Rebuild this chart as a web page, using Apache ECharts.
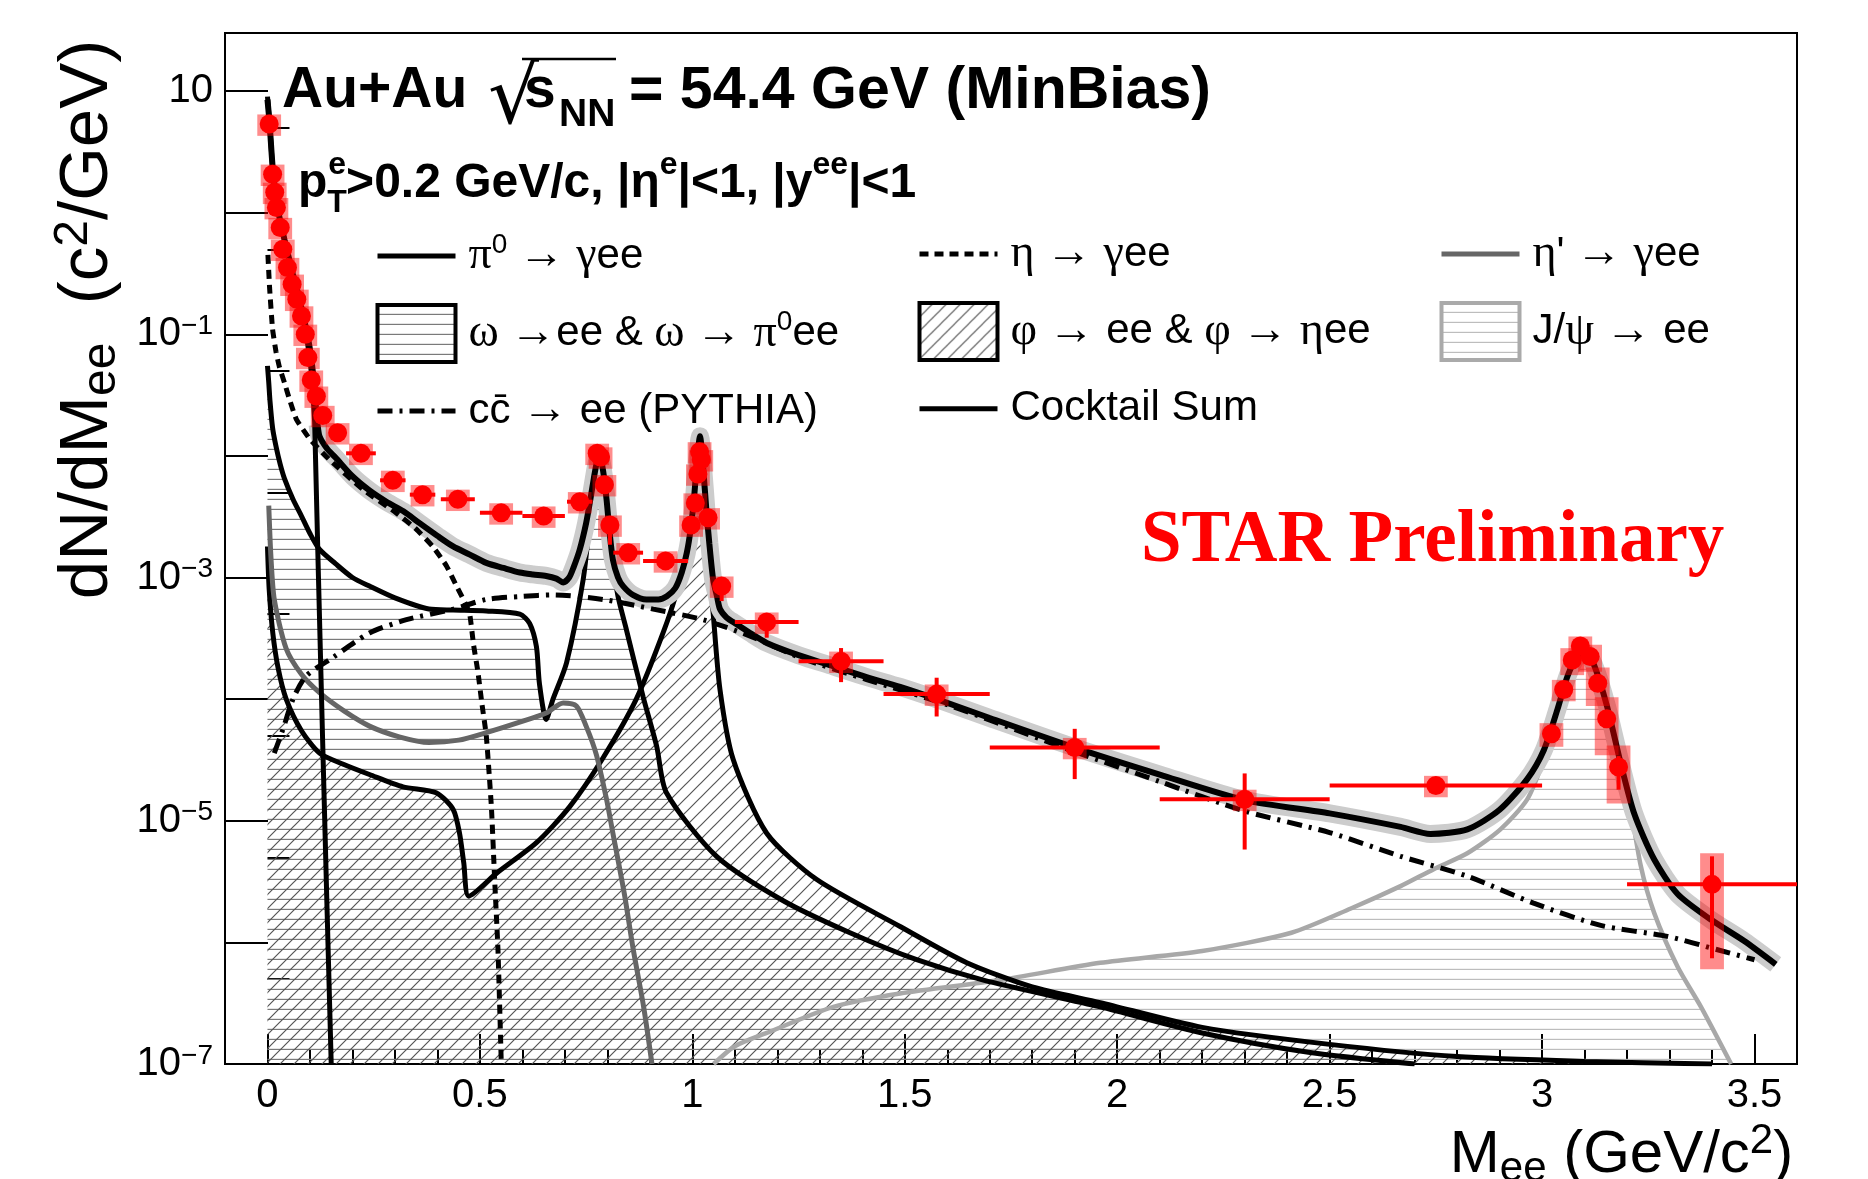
<!DOCTYPE html>
<html>
<head>
<meta charset="utf-8">
<script src="https://cdn.jsdelivr.net/npm/echarts@6.0.0/dist/echarts.min.js"></script>
<style>html,body{margin:0;padding:0;background:#fff}#main{width:1868px;height:1179px}</style>
</head>
<body>
<div id="main"></div>
<script>
// STAR Au+Au 54.4 GeV dielectron mass spectrum vs hadronic cocktail
const SANS = '"Liberation Sans", Arial, Helvetica, sans-serif';
const SERIF = '"Liberation Serif", "Times New Roman", serif';

// axis ticks / labels
const xMajorTicks = [0, 0.5, 1, 1.5, 2, 2.5, 3, 3.5];
const xMinorTicks = [0.1, 0.2, 0.3, 0.4, 0.6, 0.7, 0.8, 0.9, 1.1, 1.2, 1.3, 1.4, 1.6, 1.7, 1.8, 1.9,
    2.1, 2.2, 2.3, 2.4, 2.6, 2.7, 2.8, 2.9, 3.1, 3.2, 3.3, 3.4];
const yMajorTicks = [1e-7, 1e-6, 1e-5, 1e-4, 1e-3, 1e-2, 1e-1, 1, 10];
const yMinorTicks = [5e-7, 5e-6, 5e-5, 5e-4, 5e-3, 5e-2, 5e-1, 5];
const yLabelValues = [1e-7, 1e-5, 1e-3, 1e-1, 10];

// measured points
const ptX = [0.004, 0.012, 0.017, 0.021, 0.03, 0.036, 0.047, 0.058, 0.069, 0.08, 0.089, 0.095, 0.103, 0.115, 0.13, 0.165,
    0.22, 0.295, 0.365, 0.448, 0.55, 0.65, 0.735, 0.776, 0.784, 0.793, 0.806, 0.849, 0.937,
    0.997, 1.007, 1.013, 1.017, 1.021, 1.037, 1.069, 1.175, 1.35, 1.575, 1.9, 2.3, 2.75,
    3.022, 3.051, 3.071, 3.09, 3.113, 3.131, 3.152, 3.18, 3.4];
const ptY = [5.35, 2.07, 1.47, 1.1, 0.755, 0.5, 0.354, 0.258, 0.194, 0.1415, 0.1, 0.0645, 0.042, 0.031, 0.0215, 0.0155,
    0.0105, 0.0063, 0.0048, 0.0044, 0.0034, 0.0032, 0.0042, 0.0105, 0.0098, 0.0058, 0.0027, 0.0016, 0.00137,
    0.0027, 0.0041, 0.0071, 0.0108, 0.0093, 0.0031, 8.5e-4, 4.3e-4, 2.05e-4, 1.1e-4, 4.0e-5, 1.5e-5, 1.95e-5,
    5.2e-5, 1.2e-4, 2.1e-4, 2.73e-4, 2.24e-4, 1.35e-4, 6.9e-5, 2.77e-5, 3.0e-6];
const ptXErr = [0, 0, 0, 0, 0, 0, 0, 0, 0, 0, 0, 0, 0, 0, 0, 0.015,
    0.035, 0.03, 0.03, 0.04, 0.05, 0.05, 0.03, 0, 0, 0, 0, 0.035, 0.053,
    0, 0, 0, 0, 0, 0, 0.02, 0.075, 0.1, 0.125, 0.2, 0.2, 0.25,
    0, 0, 0, 0, 0, 0, 0, 0, 0.2];
const ptStatLo = [null, null, null, null, null, null, null, null, null, null, null, null, null, null, null, null,
    null, null, null, null, null, null, null, null, null, null, 1.86e-3, null, null,
    null, null, null, null, null, null, 6.4e-4, 3.2e-4, 1.38e-4, 7.2e-5, 2.2e-5, 5.8e-6, 1.7e-5,
    null, null, null, null, null, 1.15e-4, 5.8e-5, 1.8e-5, 7.4e-7];
const ptStatHi = [null, null, null, null, null, null, null, null, null, null, null, null, null, null, null, null,
    null, null, null, null, null, null, null, null, null, null, 3.2e-3, null, null,
    null, null, null, null, null, null, 1.0e-3, 5.1e-4, 2.63e-4, 1.5e-4, 5.7e-5, 2.45e-5, 2.25e-5,
    null, null, null, null, null, 1.55e-4, 8.0e-5, 3.4e-5, 5.1e-6];
const ptSysRel = [0.2, 0.2, 0.2, 0.2, 0.2, 0.2, 0.2, 0.2, 0.2, 0.2, 0.2, 0.2, 0.2, 0.2, 0.2, 0.2,
    0.2, 0.2, 0.2, 0.2, 0.2, 0.2, 0.2, 0.2, 0.2, 0.2, 0.2, 0.2, 0.2,
    0.2, 0.2, 0.2, 0.2, 0.2, 0.2, 0.2, 0.2, 0.2, 0.2, 0.2, 0.2, 0.2,
    0.22, 0.2, 0.25, 0.2, 0.25, 0.35, 0.5, 0.5, 0.8];

// cocktail components [mass, dN/dM]
const pi0Curve = [[0, 9], [0.005, 5.4], [0.012, 2.3], [0.02, 1.3], [0.03, 0.85], [0.04, 0.6], [0.05, 0.42],
    [0.06, 0.3], [0.07, 0.22], [0.08, 0.155], [0.09, 0.105], [0.1, 0.062], [0.106, 0.038], [0.111, 0.019],
    [0.12, 1.0e-3], [0.13, 4.3e-5], [0.14, 2e-6], [0.15, 1e-7]];
const etaCurve = [[0.001, 0.45], [0.005, 0.24], [0.012, 0.11], [0.02, 0.072], [0.028, 0.054], [0.04, 0.04],
    [0.052, 0.029], [0.068, 0.02], [0.1, 0.0137], [0.146, 0.0093], [0.2245, 0.0053], [0.303, 0.0034],
    [0.35, 0.0025], [0.389, 0.0018], [0.421, 0.00125], [0.445, 8.5e-4], [0.465, 6.2e-4], [0.476, 5.0e-4],
    [0.485, 2.8e-4], [0.495, 1.7e-4], [0.505, 9e-5], [0.515, 5e-5], [0.527, 1.3e-5], [0.535, 3.1e-6],
    [0.5425, 8.7e-7], [0.55, 1.1e-7]];
const etaPrimeCurve = [[0.003, 3.9e-3], [0.008, 1.5e-3], [0.016, 6.6e-4], [0.044, 2.6e-4], [0.08, 1.6e-4],
    [0.1225, 1.13e-4], [0.18, 8e-5], [0.24, 6e-5], [0.31, 4.9e-5], [0.38, 4.4e-5], [0.45, 4.6e-5],
    [0.515, 5.3e-5], [0.59, 6.4e-5], [0.656, 7.7e-5], [0.696, 9.3e-5], [0.727, 8.8e-5], [0.75, 6e-5],
    [0.774, 3.5e-5], [0.798, 1.5e-5], [0.813, 7.9e-6], [0.84, 2.5e-6], [0.861, 8.7e-7], [0.885, 3e-7], [0.905, 1e-7]];
const omegaCurve = [[0, 0.055], [0.003, 0.04], [0.006, 0.028], [0.012, 0.017], [0.02, 0.012], [0.03, 0.0085],
    [0.04, 0.0065], [0.06, 0.0044], [0.08, 0.0032], [0.1, 0.0023], [0.1225, 0.0017], [0.16, 0.0013],
    [0.2, 0.001], [0.24, 8.5e-4], [0.3, 6.8e-4], [0.38, 5.5e-4], [0.437, 5.4e-4], [0.515, 5.3e-4],
    [0.594, 5.0e-4], [0.617, 4.2e-4], [0.633, 2.7e-4], [0.64, 1.35e-4], [0.656, 6.8e-5], [0.672, 1e-4],
    [0.704, 2.0e-4], [0.743, 9.6e-4], [0.759, 0.003], [0.77, 0.0064], [0.778, 0.0097], [0.79, 0.0065],
    [0.806, 0.0018], [0.825, 7e-4], [0.845, 3.7e-4], [0.884, 1.05e-4], [0.916, 4.1e-5], [0.939, 1.7e-5],
    [1.057, 5.1e-6], [1.214, 2.2e-6], [1.371, 1.2e-6], [1.528, 7.2e-7], [1.685, 4.9e-7], [1.96, 2.95e-7],
    [2.2, 1.8e-7], [2.45, 1.25e-7], [2.7, 1e-7]];
const phiCurve = [[0, 1.8e-3], [0.004, 8e-4], [0.0125, 3.5e-4], [0.025, 1.8e-4], [0.044, 1e-4], [0.08, 5.5e-5],
    [0.1225, 3.6e-5], [0.18, 2.9e-5], [0.24, 2.4e-5], [0.319, 1.9e-5], [0.397, 1.7e-5], [0.437, 1.24e-5],
    [0.452, 7.9e-6], [0.462, 4.5e-6], [0.474, 2.4e-6], [0.539, 3.7e-6], [0.633, 6.6e-6], [0.711, 1.3e-5],
    [0.79, 3.3e-5], [0.868, 1e-4], [0.931, 3.5e-4], [0.965, 8e-4], [0.986, 1.7e-3], [1.002, 4.4e-3],
    [1.012, 9e-3], [1.018, 0.0135], [1.025, 0.006], [1.033, 2.5e-3], [1.049, 5.1e-4], [1.065, 1.2e-4],
    [1.096, 3.2e-5], [1.175, 7.9e-6], [1.292, 3.3e-6], [1.489, 1.35e-6], [1.646, 6.8e-7], [1.8, 4.3e-7],
    [1.96, 3.2e-7], [2.2, 2e-7], [2.5, 1.45e-7], [2.8, 1.15e-7], [3.1, 1.05e-7], [3.4, 1e-7]];
const jpsiCurve = [[1.05, 1e-7], [1.1, 1.4e-7], [1.175, 1.8e-7], [1.332, 2.95e-7], [1.489, 3.8e-7], [1.724, 4.9e-7],
    [1.96, 6.8e-7], [2.2, 8.5e-7], [2.41, 1.2e-6], [2.55, 1.9e-6], [2.667, 2.9e-6], [2.745, 4e-6],
    [2.824, 5.4e-6], [2.902, 8.5e-6], [2.965, 1.5e-5], [3.004, 3.2e-5], [3.036, 7.5e-5], [3.06, 1.5e-4],
    [3.083, 2.2e-4], [3.102, 2.35e-4], [3.122, 1.85e-4], [3.153, 8e-5], [3.18, 3.2e-5], [3.2, 1.9e-5],
    [3.232, 4.3e-6], [3.264, 1.74e-6], [3.319, 6.3e-7], [3.374, 2.95e-7], [3.445, 1e-7]];
const ccbarCurve = [[0.016, 3.6e-5], [0.036, 5.6e-5], [0.06, 1e-4], [0.091, 1.55e-4], [0.154, 2.2e-4],
    [0.24, 3.5e-4], [0.327, 4.5e-4], [0.437, 5.5e-4], [0.515, 6.6e-4], [0.6, 7e-4], [0.672, 7.2e-4],
    [0.79, 6.6e-4], [0.908, 5.5e-4], [1.025, 4.5e-4], [1.136, 3.3e-4], [1.253, 2.2e-4], [1.41, 1.45e-4],
    [1.6, 9e-5], [1.9, 3.7e-5], [2.1, 2.1e-5], [2.3, 1.2e-5], [2.5, 8e-6], [2.667, 5.1e-6], [2.824, 3.5e-6],
    [2.98, 2.1e-6], [3.138, 1.38e-6], [3.295, 1.12e-6], [3.413, 8.7e-7], [3.5, 7.2e-7]];
const sumCurve = [[0, 8.5], [0.005, 5.4], [0.012, 2.4], [0.02, 1.35], [0.03, 0.85], [0.04, 0.6], [0.05, 0.43],
    [0.06, 0.31], [0.07, 0.23], [0.08, 0.165], [0.09, 0.115], [0.1, 0.075], [0.108, 0.045], [0.114, 0.025],
    [0.118, 0.018], [0.1225, 0.0145], [0.14, 0.0115], [0.16, 0.0097], [0.2, 0.0068], [0.24, 0.0052],
    [0.28, 0.0042], [0.32, 0.0035], [0.358, 0.0028], [0.4, 0.0022], [0.437, 0.0018], [0.475, 0.00155],
    [0.515, 0.00132], [0.555, 0.0012], [0.594, 0.0011], [0.625, 0.00106], [0.656, 0.00103], [0.68, 0.00098],
    [0.696, 0.00091], [0.71, 0.001], [0.72, 0.0012], [0.735, 0.0017], [0.75, 0.0028], [0.76, 0.0044],
    [0.768, 0.0065], [0.775, 0.0088], [0.782, 0.01], [0.79, 0.0075], [0.798, 0.0044], [0.805, 0.0024],
    [0.813, 0.0014], [0.825, 0.001], [0.837, 0.00085], [0.86, 0.00072], [0.892, 0.00066], [0.92, 0.00066],
    [0.94, 0.0007], [0.96, 0.00082], [0.975, 0.0011], [0.987, 0.0016], [0.996, 0.0025], [1.004, 0.0045],
    [1.01, 0.0083], [1.018, 0.0145], [1.026, 0.0075], [1.033, 0.0036], [1.04, 0.0019], [1.049, 0.00096],
    [1.058, 0.0007], [1.065, 0.00055], [1.08, 0.00047], [1.096, 0.00043], [1.136, 0.00035], [1.175, 0.00029],
    [1.25, 0.00023], [1.332, 0.000186], [1.41, 0.000152], [1.489, 0.000126], [1.575, 0.0001], [1.7, 7.0e-5],
    [1.9, 4.0e-5], [2.1, 2.4e-5], [2.3, 1.48e-5], [2.5, 1.15e-5], [2.667, 8.9e-6], [2.737, 7.8e-6],
    [2.824, 8.5e-6], [2.9, 1.23e-5], [2.965, 2.2e-5], [3.004, 3.8e-5], [3.036, 8.2e-5], [3.06, 1.55e-4],
    [3.083, 2.25e-4], [3.102, 2.4e-4], [3.122, 1.92e-4], [3.153, 8.7e-5], [3.185, 2.97e-5], [3.217, 1.14e-5],
    [3.264, 4.8e-6], [3.319, 2.5e-6], [3.397, 1.54e-6], [3.475, 1.03e-6], [3.55, 6.6e-7]];

// ---- styling helpers ----
const SYS_HALF = 0.028;

function hatch(kind, color, step) {
    const c = document.createElement('canvas');
    c.width = step;
    c.height = step;
    const g = c.getContext('2d');
    g.strokeStyle = color;
    g.lineWidth = 1.2;
    g.beginPath();
    if (kind === 'h') {
        g.moveTo(0, step - 0.6);
        g.lineTo(step, step - 0.6);
    } else {
        g.moveTo(-1, step + 1);
        g.lineTo(step + 1, -1);
        g.moveTo(-1, 1);
        g.lineTo(1, -1);
        g.moveTo(step - 1, step + 1);
        g.lineTo(step + 1, step - 1);
    }
    g.stroke();
    return { image: c, repeat: 'repeat' };
}

const omegaFill = hatch('h', '#7a7a7a', 10);
const phiFill = hatch('d', '#555555', 14);
const jpsiFill = hatch('h', '#bdbdbd', 10);

function curve(name, data, color, width, extra) {
    return Object.assign({
        type: 'line',
        name: name,
        data: data,
        symbol: 'none',
        showSymbol: false,
        smooth: 0.25,
        silent: true,
        lineStyle: { color: color, width: width },
        itemStyle: { color: color },
        z: 3
    }, extra || {});
}

function renderErr(params, api) {
    const x = api.value(0);
    const y = api.value(1);
    const c = api.coord([x, y]);
    const l = api.coord([api.value(2), y]);
    const r = api.coord([api.value(3), y]);
    const lo = api.coord([x, api.value(4)]);
    const hi = api.coord([x, api.value(5)]);
    const style = { stroke: '#ff0000', lineWidth: 4 };
    return {
        type: 'group',
        children: [
            { type: 'line', shape: { x1: l[0], y1: c[1], x2: r[0], y2: c[1] }, style: style },
            { type: 'line', shape: { x1: c[0], y1: hi[1], x2: c[0], y2: lo[1] }, style: style }
        ]
    };
}

function renderSys(params, api) {
    const x = api.value(0);
    const p1 = api.coord([x - SYS_HALF, api.value(2)]);
    const p2 = api.coord([x + SYS_HALF, api.value(1)]);
    return {
        type: 'rect',
        shape: { x: p1[0], y: p1[1], width: p2[0] - p1[0], height: p2[1] - p1[1] },
        style: { fill: 'rgba(255,0,0,0.45)' }
    };
}

const errRows = ptX.map((x, i) => [x, ptY[i], x - ptXErr[i], x + ptXErr[i],
    ptStatLo[i] == null ? ptY[i] : ptStatLo[i], ptStatHi[i] == null ? ptY[i] : ptStatHi[i]]);
const sysRows = ptX.map((x, i) => [x, ptY[i] * (1 - ptSysRel[i]), ptY[i] * (1 + ptSysRel[i])]);
const points = ptX.map((x, i) => [x, ptY[i]]);

const legendLabels = {
    pi0: '{p| }{g|π}{s|0}{g| → γ}{n|ee}',
    eta: '{p| }{g|η → γ}{n|ee}',
    etap: "{p| }{g|η}{n|'}{g| → γ}{n|ee}",
    omega: '{p| }{g|ω →}{n|ee & }{g|ω → π}{s|0}{n|ee}',
    phi: '{p| }{g|φ →}{n| ee & }{g|φ → η}{n|ee}',
    jpsi: '{p| }{n|J/}{g|ψ →}{n| ee}',
    ccbar: '{p| }{n|cc̄ }{g|→}{n| ee (PYTHIA)}',
    sum: '{p| }{n|Cocktail Sum}'
};
const legendRich = {
    p: { width: 8 },
    n: { fontFamily: SANS, fontSize: 42, color: '#000', lineHeight: 50 },
    g: { fontFamily: SERIF, fontSize: 46, color: '#000', lineHeight: 50 },
    s: { fontFamily: SANS, fontSize: 28, color: '#000', lineHeight: 12, verticalAlign: 'top' }
};
const noMarker = { color: 'rgba(0,0,0,0)', borderWidth: 0 };

function legendCol(left, data) {
    return {
        left: left, top: 231, orient: 'vertical', padding: 0,
        itemWidth: 78, itemHeight: 57, itemGap: 24,
        selectedMode: false,
        lineStyle: { width: 5 },
        formatter: n => legendLabels[n],
        textStyle: { rich: legendRich, fontSize: 42, color: '#000' },
        data: data
    };
}

const yLabelRich = {
    b: { fontFamily: SANS, fontSize: 40, color: '#000', lineHeight: 44 },
    s: { fontFamily: SANS, fontSize: 28, color: '#000', lineHeight: 12, verticalAlign: 'top' }
};

const boldText = (size) => ({ fontFamily: SANS, fontWeight: 'bold', fontSize: size, color: '#000' });

const chart = echarts.init(document.getElementById('main'));
chart.setOption({
    animation: false,
    backgroundColor: '#fff',
    grid: { left: 225, right: 71, top: 33, bottom: 115, show: true, borderColor: '#000', borderWidth: 2,
            containLabel: false, outerBoundsMode: 'none' },
    title: [
        { text: 'Au+Au', left: 282, top: 63, padding: 0, textStyle: boldText(57) },
        { text: '√', left: 488, top: 62, padding: 0,
          textStyle: { fontFamily: '"DejaVu Sans", sans-serif', fontWeight: 'normal', fontSize: 80, color: '#000' } },
        { text: 's', left: 524, top: 63, padding: 0, textStyle: boldText(57) },
        { text: 'NN', left: 559, top: 96, padding: 0, textStyle: boldText(39) },
        { text: '= 54.4 GeV (MinBias)', left: 629, top: 62, padding: 0, textStyle: boldText(59) },
        { text: '{m|p}{t|T}{u|e}{m|>0.2 GeV/c, |η}{u|e}{m||<1, |y}{u|ee}{m||<1}', left: 298, top: 149, padding: 0,
          textStyle: { rich: {
              m: { fontFamily: SANS, fontWeight: 'bold', fontSize: 48, color: '#000', lineHeight: 70 },
              u: { fontFamily: SANS, fontWeight: 'bold', fontSize: 32, color: '#000', lineHeight: 26, verticalAlign: 'top' },
              t: { fontFamily: SANS, fontWeight: 'bold', fontSize: 32, color: '#000', lineHeight: 6, verticalAlign: 'bottom', width: 1 }
          } } },
        { text: 'STAR Preliminary', left: 1141, top: 506, padding: 0,
          textStyle: { fontFamily: SERIF, fontWeight: 'bold', fontSize: 73, color: '#ff0000' } }
    ],
    graphic: [
        { type: 'line', shape: { x1: 522, y1: 59, x2: 616, y2: 59 }, style: { stroke: '#000', lineWidth: 2.5 } }
    ],
    legend: [
        legendCol(375, [
            { name: 'pi0', itemStyle: noMarker },
            { name: 'omega', icon: 'rect', itemStyle: { color: omegaFill, borderColor: '#000', borderWidth: 4 } },
            { name: 'ccbar', itemStyle: noMarker }
        ]),
        legendCol(917, [
            { name: 'eta', itemStyle: noMarker },
            { name: 'phi', icon: 'rect', itemStyle: { color: phiFill, borderColor: '#000', borderWidth: 4 } },
            { name: 'sum', itemStyle: noMarker }
        ]),
        legendCol(1439, [
            { name: 'etap', itemStyle: noMarker },
            { name: 'jpsi', icon: 'rect', itemStyle: { color: jpsiFill, borderColor: '#aaaaaa', borderWidth: 4 } }
        ])
    ],
    xAxis: [{
        type: 'value', min: -0.1, max: 3.6, splitNumber: 8,
        axisLine: { show: true, onZero: false, lineStyle: { color: '#000', width: 2 } },
        axisTick: { show: true, inside: true, length: 30, customValues: xMajorTicks, lineStyle: { color: '#000', width: 2 } },
        axisLabel: { customValues: xMajorTicks, margin: 12, fontFamily: SANS, fontSize: 40, color: '#000',
                     formatter: v => String(v) },
        splitLine: { show: false },
        name: '{a|M}{b|ee}{a| (GeV/c}{c|2}{a|)}',
        nameLocation: 'middle', nameGap: 49,
        nameTextStyle: { padding: [0, 0, 0, 1221], rich: {
            a: { fontFamily: SANS, fontSize: 60, color: '#000', lineHeight: 70 },
            b: { fontFamily: SANS, fontSize: 42, color: '#000', lineHeight: 8, verticalAlign: 'bottom' },
            c: { fontFamily: SANS, fontSize: 42, color: '#000', lineHeight: 18, verticalAlign: 'top' }
        } }
    }, {
        type: 'value', min: -0.1, max: 3.6, position: 'bottom',
        axisLine: { show: false }, axisLabel: { show: false }, splitLine: { show: false },
        axisTick: { show: true, inside: true, length: 14, customValues: xMinorTicks, lineStyle: { color: '#000', width: 2 } }
    }],
    yAxis: [{
        type: 'log', logBase: 10, min: 1e-7, max: 30,
        axisLine: { show: true, onZero: false, lineStyle: { color: '#000', width: 2 } },
        axisTick: { show: true, inside: true, length: 43, customValues: yMajorTicks, lineStyle: { color: '#000', width: 2 } },
        axisLabel: { customValues: yLabelValues, margin: 12, rich: yLabelRich,
            formatter: v => {
                const e = Math.round(Math.log10(v));
                return e === 1 ? '{b|10}' : '{b|10}{s|−' + (-e) + '}';
            } },
        splitLine: { show: false },
        name: '{a|dN/dM}{b|ee}{a|  (c}{c|2}{a|/GeV)}',
        nameLocation: 'middle', nameGap: 81, nameRotate: 90,
        nameTextStyle: { padding: [0, 0, 0, 458], rich: {
            a: { fontFamily: SANS, fontSize: 69, color: '#000', lineHeight: 76 },
            b: { fontFamily: SANS, fontSize: 48, color: '#000', lineHeight: 8, verticalAlign: 'bottom' },
            c: { fontFamily: SANS, fontSize: 48, color: '#000', lineHeight: 20, verticalAlign: 'top' }
        } }
    }, {
        type: 'log', logBase: 10, min: 1e-7, max: 30, position: 'left',
        axisLine: { show: false }, axisLabel: { show: false }, splitLine: { show: false },
        axisTick: { show: true, inside: true, length: 22, customValues: yMinorTicks, lineStyle: { color: '#000', width: 2 } }
    }],
    series: [
        curve('jpsi', jpsiCurve, '#a8a8a8', 4.5, { z: 2, areaStyle: { color: jpsiFill, origin: 'start', opacity: 1 } }),
        curve('omega', omegaCurve, '#000', 5, { z: 2, areaStyle: { color: omegaFill, origin: 'start', opacity: 1 } }),
        curve('phi', phiCurve, '#000', 5, { z: 2, areaStyle: { color: phiFill, origin: 'start', opacity: 1 } }),
        curve('band', sumCurve.slice(14), '#cccccc', 18, { z: 3 }),
        curve('etap', etaPrimeCurve, '#666666', 5),
        curve('eta', etaCurve, '#000', 5, { smooth: 0.15, lineStyle: { color: '#000', width: 5, type: [9, 6] } }),
        curve('ccbar', ccbarCurve, '#000', 5, { lineStyle: { color: '#000', width: 5, type: [15, 7, 3, 7] } }),
        curve('pi0', pi0Curve, '#000', 5, { smooth: false }),
        curve('sum', sumCurve, '#000', 6, { z: 4 }),
        { type: 'custom', name: 'sys', data: sysRows, renderItem: renderSys, z: 5, silent: true, clip: true },
        { type: 'custom', name: 'stat', data: errRows, renderItem: renderErr, z: 6, silent: true, clip: true },
        { type: 'scatter', name: 'data', data: points, symbol: 'circle', symbolSize: 19,
          itemStyle: { color: '#ff0000', opacity: 1 }, z: 7, silent: true }
    ]
});
</script>
</body>
</html>
